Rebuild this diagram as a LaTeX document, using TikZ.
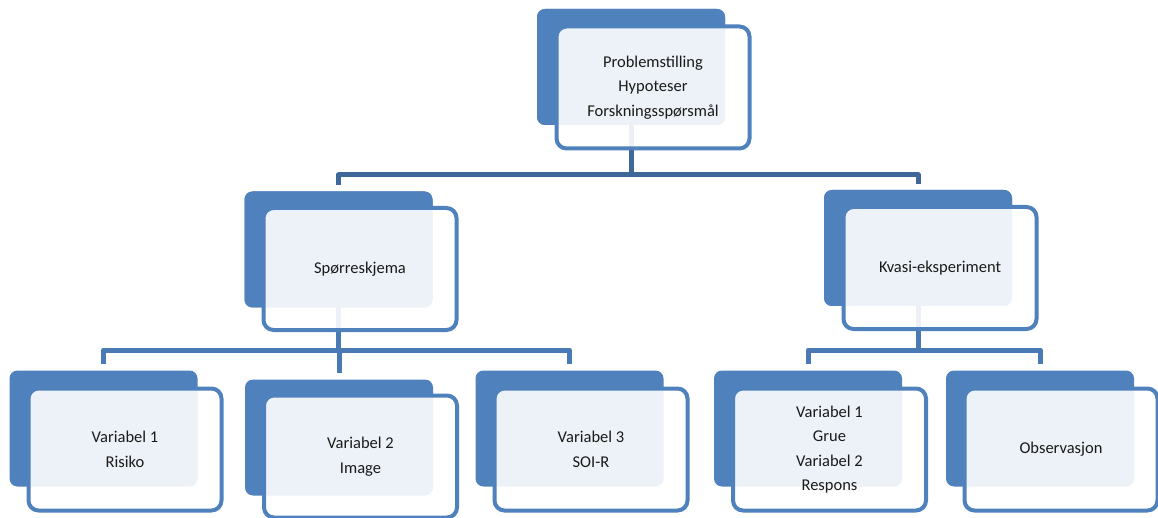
\documentclass[tikz,border=0pt]{standalone}
\usepackage{fontspec}
\setmainfont{Carlito}
\definecolor{boxblue}{HTML}{4F81BD}
\definecolor{topconn}{HTML}{3F679A}
\definecolor{lowconn}{HTML}{4A7AB6}
\definecolor{txt}{HTML}{1A1A1A}
\begin{document}
\begin{tikzpicture}[x=1pt,y=-1pt,
  backbox/.style={rectangle,rounded corners=8pt,fill=boxblue,draw=none,
    minimum width=188pt,minimum height=116pt,inner sep=0pt},
  frontbox/.style={rectangle,rounded corners=10pt,draw=boxblue,line width=4pt,
    fill=white,fill opacity=0.9,text opacity=1,text=txt,
    minimum width=193pt,minimum height=122pt,inner sep=0pt,align=center,
    font=\fontsize{16.5}{24.5}\selectfont},
  conn/.style={line width=5pt,line join=round},
  topc/.style={conn,draw=topconn},
  lowc/.style={conn,draw=lowconn}]
\useasboundingbox (0,0) rectangle (1158,518);
% bus coordinates
\coordinate (busT) at (631,175);
\coordinate (busS) at (338,350);
\coordinate (busK) at (918,350);
% back boxes
\node[backbox] (topB) at (631,67) {};
\node[backbox] (spB) at (338.5,249.5) {};
\node[backbox] (kvB) at (918,248) {};
\node[backbox] (v1B) at (103.5,428.5) {};
\node[backbox] (v2B) at (339,437.5) {};
\node[backbox] (v3B) at (569.5,428.5) {};
\node[backbox] (grB) at (808,428.5) {};
\node[backbox] (obB) at (1040,428.5) {};
% connectors (behind front boxes)
\draw[topc] (topB.center) -- (topB.center |- busT) -| ([yshift=6pt]spB.north);
\draw[topc] (topB.center |- busT) -| ([yshift=6pt]kvB.north);
\draw[lowc] (spB.center) -- (spB.center |- busS) -| ([yshift=6pt]v1B.north);
\draw[lowc] (spB.center |- busS) -| ([yshift=6pt]v2B.north);
\draw[lowc] (spB.center |- busS) -| ([yshift=6pt]v3B.north);
\draw[lowc] (kvB.center) -- (kvB.center |- busK) -| ([yshift=6pt]grB.north);
\draw[lowc] (kvB.center |- busK) -| ([yshift=6pt]obB.north);
% redraw back boxes over connector starts
\node[backbox] at (topB) {};
\node[backbox] at (spB) {};
\node[backbox] at (kvB) {};
% front boxes
\node[frontbox] (topF) at (653,87.5) {Problemstilling\\Hypoteser\\Forskningsspørsmål};
\node[frontbox] (spF) at (360,269) {Spørreskjema};
\node[frontbox] (kvF) at (940,268) {Kvasi-eksperiment};
\node[frontbox] (v1F) at (125,449.5) {Variabel 1\\Risiko};
\node[frontbox] (v2F) at (360.5,456.5) {Variabel 2\\Image};
\node[frontbox] (v3F) at (591,449.5) {Variabel 3\\SOI-R};
\node[frontbox] (grF) at (829.5,449.5) {Variabel 1\\Grue\\Variabel 2\\Respons};
\node[frontbox] (obF) at (1061,449.5) {Observasjon};
\end{tikzpicture}
\end{document}
